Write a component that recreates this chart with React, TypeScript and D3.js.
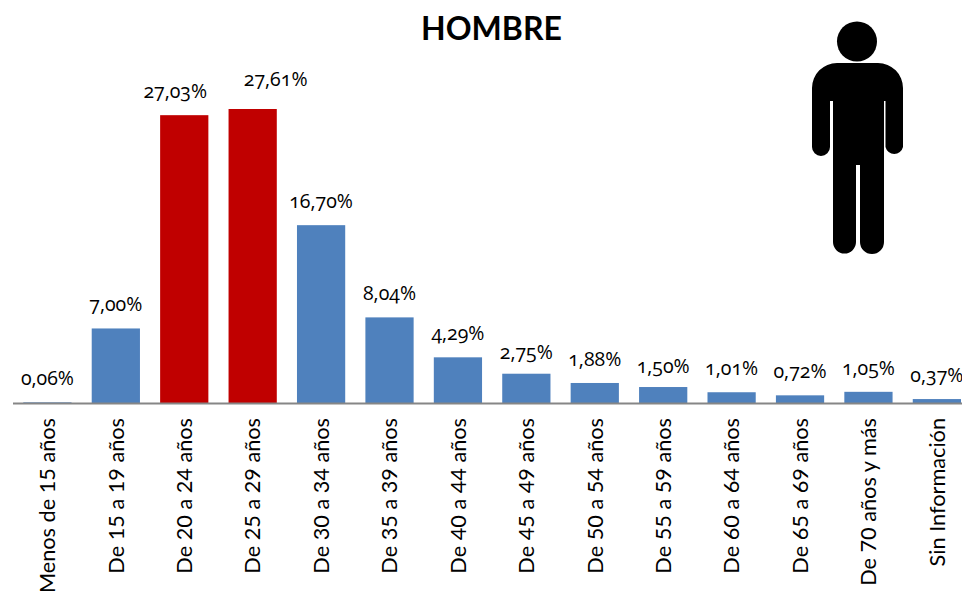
import React, { useEffect, useRef } from 'react';
import * as d3 from 'd3';

const categorias = [
  'Menos de 15 años', 'De 15 a 19 años', 'De 20 a 24 años', 'De 25 a 29 años',
  'De 30 a 34 años', 'De 35 a 39 años', 'De 40 a 44 años', 'De 45 a 49 años',
  'De 50 a 54 años', 'De 55 a 59 años', 'De 60 a 64 años', 'De 65 a 69 años',
  'De 70 años y más', 'Sin Información',
];
const valores = [0.06, 7.0, 27.03, 27.61, 16.7, 8.04, 4.29, 2.75, 1.88, 1.5, 1.01, 0.72, 1.05, 0.37];
const destacados = ['De 20 a 24 años', 'De 25 a 29 años'];

const width = 962, height = 591;
const margin = { left: 13.2, axisY: 403, top: 109 };
const labelFont = '"Open Sans", sans-serif';
const axisFont = 'Lato, "Open Sans", sans-serif';

// etiquetas movidas a mano en el original
const nudge: Record<string, [number, number]> = {
  'De 20 a 24 años': [-9, 0],
  'De 25 a 29 años': [23, -6],
  'De 55 a 59 años': [0, 3],
  'De 45 a 49 años': [0, 2],
};

export default function App() {
  const axisRef = useRef<SVGGElement>(null);

  const x = d3.scaleBand<string>()
    .domain(categorias)
    .range([margin.left, margin.left + 68.42 * categorias.length])
    .paddingInner(0.295)
    .paddingOuter(0.1475);

  const y = d3.scaleLinear()
    .domain([0, 27.61])
    .range([margin.axisY, margin.top]);

  useEffect(() => {
    const g = d3.select(axisRef.current);
    g.call(d3.axisBottom(x).tickSize(0).tickPadding(0) as any);
    g.select('.domain').remove();
    g.selectAll('text')
      .attr('transform', 'rotate(-90)')
      .attr('x', -15)
      .attr('y', 0)
      .attr('dy', '0.36em')
      .style('text-anchor', 'end')
      .style('font-family', axisFont)
      .style('font-size', '21.7px')
      .style('fill', '#000');
  }, []);

  return (
    <svg width={width} height={height} style={{ position: 'absolute', left: 0, top: 0, background: '#fff' }}>
      <text x={491.5} y={40} textAnchor="middle" fontFamily={axisFont} fontWeight={700} fontSize={32} fill="#000">HOMBRE</text>

      {categorias.map((c, i) => (
        <rect key={c} x={x(c)} y={y(valores[i])} width={x.bandwidth()} height={margin.axisY - y(valores[i])}
          fill={destacados.includes(c) ? '#c00000' : '#4f81bd'} />
      ))}

      <line x1={13} x2={width} y1={margin.axisY + 0.5} y2={margin.axisY + 0.5} stroke="#868686" strokeWidth={2} />

      {categorias.map((c, i) => {
        const [dx, dy] = nudge[c] || [0, 0];
        return (
          <text key={c} x={x(c)! + x.bandwidth() / 2 + dx} y={y(valores[i]) - 17 + dy} textAnchor="middle"
            fontFamily={labelFont} fontSize={19.5} fill="#000" style={{ fontFeatureSettings: '"onum"' }}>
            {valores[i].toFixed(2).replace('.', ',')}%
          </text>
        );
      })}

      <g ref={axisRef} transform={`translate(0,${margin.axisY})`} />

      {/* figura de hombre */}
      <g fill="#000">
        <circle cx={857} cy={41.5} r={20} />
        <path d="M812 88 A25 25 0 0 1 837 63 L878 63 A25 25 0 0 1 903 88 L903 147 A9 9 0 0 1 885.5 147 L885.5 101 L884 101 L884 242 A12 12 0 0 1 860 242 L860 165 L856 165 L856 242 A11.5 11.5 0 0 1 833 242 L833 101 L830 101 L830 147 A9 9 0 0 1 812 147 Z" />
      </g>
    </svg>
  );
}
